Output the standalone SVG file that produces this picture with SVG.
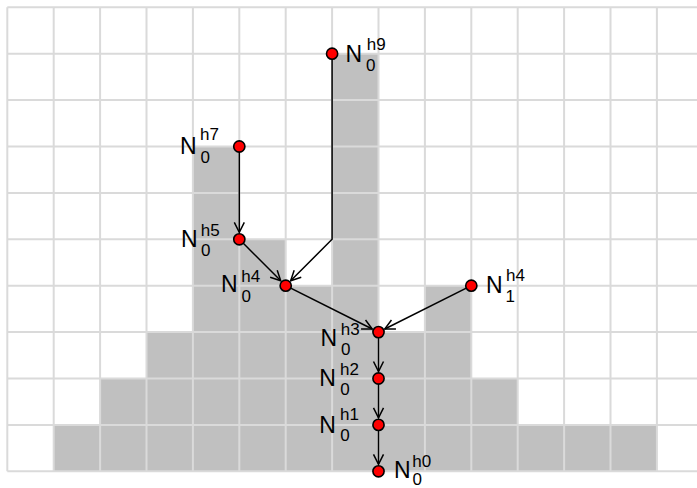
<svg xmlns="http://www.w3.org/2000/svg" width="697" height="488" viewBox="0 0 697 488">
<style>
.cell{fill:#c0c0c0;stroke:none}
.grid line{stroke:#dadada;stroke-width:2}
.edge{fill:none;stroke:#000;stroke-width:1.5;marker-end:url(#arr)}
.node circle{fill:#ff0000;stroke:#000;stroke-width:1.6}
.n{font-family:"Liberation Sans",Arial,sans-serif;font-size:23px;fill:#000}
.s{font-family:"Liberation Sans",Arial,sans-serif;font-size:17px;fill:#000}
</style>
<defs>
<marker id="arr" viewBox="-12 -7 14 14" markerWidth="14" markerHeight="14" refX="0" refY="0" orient="auto" markerUnits="userSpaceOnUse">
<path d="M-10,-5 L0,0 L-10,5" fill="none" stroke="#000" stroke-width="1.5"/>
</marker>
</defs>
<rect width="697" height="488" fill="#fff"/>
<g id="cells">
<rect class="cell" x="53.7" y="424.9" width="46.4" height="46.4"/>
<rect class="cell" x="100.1" y="378.5" width="46.4" height="92.8"/>
<rect class="cell" x="146.5" y="332.1" width="46.4" height="139.2"/>
<rect class="cell" x="192.9" y="146.5" width="46.4" height="324.8"/>
<rect class="cell" x="239.3" y="239.3" width="46.4" height="232"/>
<rect class="cell" x="285.7" y="285.7" width="46.4" height="185.6"/>
<rect class="cell" x="332.1" y="53.7" width="46.4" height="417.6"/>
<rect class="cell" x="378.5" y="332.1" width="46.4" height="139.2"/>
<rect class="cell" x="424.9" y="285.7" width="46.4" height="185.6"/>
<rect class="cell" x="471.3" y="378.5" width="46.4" height="92.8"/>
<rect class="cell" x="517.7" y="424.9" width="139.2" height="46.4"/>
</g>
<g class="grid" id="grid">
<line x1="7.3" y1="7.3" x2="697" y2="7.3"/>
<line x1="7.3" y1="53.7" x2="697" y2="53.7"/>
<line x1="7.3" y1="100.1" x2="697" y2="100.1"/>
<line x1="7.3" y1="146.5" x2="697" y2="146.5"/>
<line x1="7.3" y1="192.9" x2="697" y2="192.9"/>
<line x1="7.3" y1="239.3" x2="697" y2="239.3"/>
<line x1="7.3" y1="285.7" x2="697" y2="285.7"/>
<line x1="7.3" y1="332.1" x2="697" y2="332.1"/>
<line x1="7.3" y1="378.5" x2="697" y2="378.5"/>
<line x1="7.3" y1="424.9" x2="697" y2="424.9"/>
<line x1="7.3" y1="471.3" x2="697" y2="471.3"/>
<line x1="7.3" y1="7.3" x2="7.3" y2="471.3"/>
<line x1="53.7" y1="7.3" x2="53.7" y2="471.3"/>
<line x1="100.1" y1="7.3" x2="100.1" y2="471.3"/>
<line x1="146.5" y1="7.3" x2="146.5" y2="471.3"/>
<line x1="192.9" y1="7.3" x2="192.9" y2="471.3"/>
<line x1="239.3" y1="7.3" x2="239.3" y2="471.3"/>
<line x1="285.7" y1="7.3" x2="285.7" y2="471.3"/>
<line x1="332.1" y1="7.3" x2="332.1" y2="471.3"/>
<line x1="378.5" y1="7.3" x2="378.5" y2="471.3"/>
<line x1="424.9" y1="7.3" x2="424.9" y2="471.3"/>
<line x1="471.3" y1="7.3" x2="471.3" y2="471.3"/>
<line x1="517.7" y1="7.3" x2="517.7" y2="471.3"/>
<line x1="564.1" y1="7.3" x2="564.1" y2="471.3"/>
<line x1="610.5" y1="7.3" x2="610.5" y2="471.3"/>
<line x1="656.9" y1="7.3" x2="656.9" y2="471.3"/>
</g>
<g id="connectors">
<path class="edge" d="M332.1,53.7 V239.3 L290.65,280.75"/>
<path class="edge" d="M239.3,146.5 V232.3"/>
<path class="edge" d="M239.3,239.3 L280.75,280.75"/>
<path class="edge" d="M285.7,285.7 L372.24,328.97"/>
<path class="edge" d="M471.3,285.7 L384.76,328.97"/>
<path class="edge" d="M378.5,332.1 V371.5"/>
<path class="edge" d="M378.5,378.5 V417.9"/>
<path class="edge" d="M378.5,424.9 V464.3"/>
</g>
<g id="n0h9" class="node"><circle cx="332.1" cy="53.7" r="5.6"/><text class="n" x="345.6" y="61.7">N</text><text class="s" x="366.7" y="50">h9</text><text class="s" x="366" y="70.7">0</text></g>
<g id="n0h7" class="node"><circle cx="239.3" cy="146.5" r="5.6"/><text class="n" x="180" y="154">N</text><text class="s" x="200" y="140">h7</text><text class="s" x="200.5" y="163.3">0</text></g>
<g id="n0h5" class="node"><circle cx="239.3" cy="239.3" r="5.6"/><text class="n" x="181" y="247.3">N</text><text class="s" x="200.7" y="236">h5</text><text class="s" x="201" y="256">0</text></g>
<g id="n0h4" class="node"><circle cx="285.7" cy="285.7" r="5.6"/><text class="n" x="221" y="292.3">N</text><text class="s" x="241.3" y="281.7">h4</text><text class="s" x="241.5" y="302.3">0</text></g>
<g id="n1h4" class="node"><circle cx="471.3" cy="285.7" r="5.6"/><text class="n" x="486" y="293.3">N</text><text class="s" x="506" y="281">h4</text><text class="s" x="505.5" y="301.7">1</text></g>
<g id="n0h3" class="node"><circle cx="378.5" cy="332.1" r="5.6"/><text class="n" x="320.6" y="346">N</text><text class="s" x="340.7" y="335">h3</text><text class="s" x="341" y="355">0</text></g>
<g id="n0h2" class="node"><circle cx="378.5" cy="378.5" r="5.6"/><text class="n" x="319.3" y="386.3">N</text><text class="s" x="340" y="374.7">h2</text><text class="s" x="340.3" y="395.3">0</text></g>
<g id="n0h1" class="node"><circle cx="378.5" cy="424.9" r="5.6"/><text class="n" x="319.3" y="433">N</text><text class="s" x="340" y="420.3">h1</text><text class="s" x="340.3" y="441.3">0</text></g>
<g id="n0h0" class="node"><circle cx="378.5" cy="471.3" r="5.6"/><text class="n" x="394" y="478.3">N</text><text class="s" x="412.3" y="466.7">h0</text><text class="s" x="412.5" y="484.5">0</text></g>
</svg>
